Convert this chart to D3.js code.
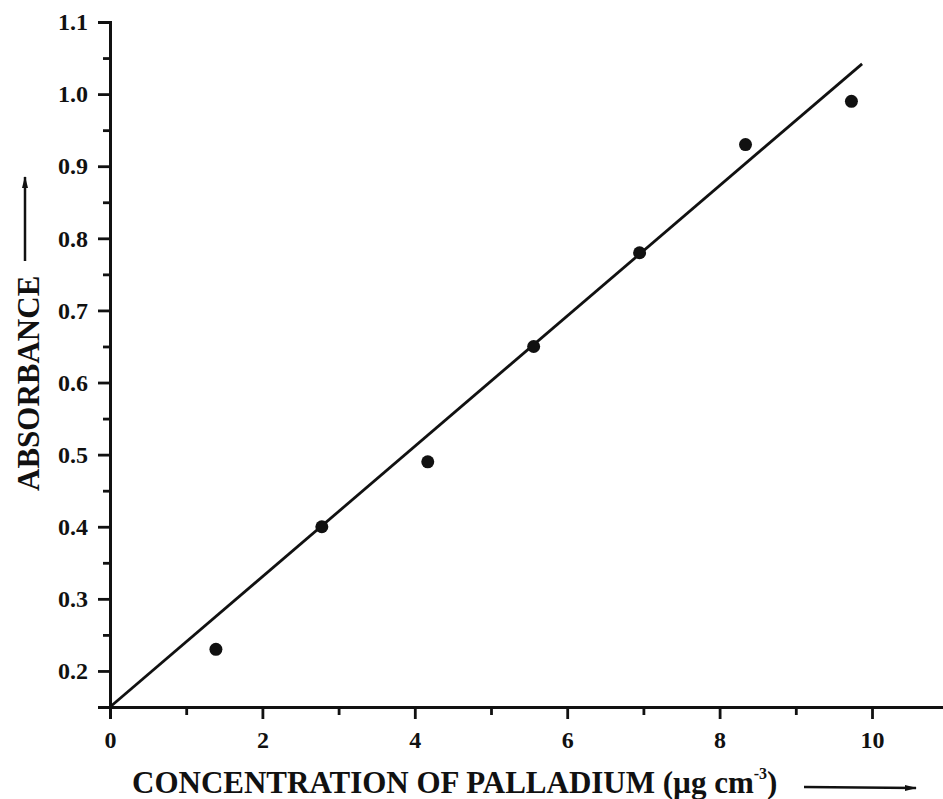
<!DOCTYPE html>
<html>
<head>
<meta charset="utf-8">
<script src="https://cdn.jsdelivr.net/npm/d3@7"></script>
<style>
  html, body { margin: 0; padding: 0; background: #fff; }
  svg { display: block; }
  text { font-family: "Liberation Serif", "Times New Roman", serif; font-weight: bold; fill: #111; }
</style>
</head>
<body>
<svg id="chart" width="943" height="799"></svg>
<script>
// Calibration data: palladium concentration (µg cm⁻³) vs absorbance
const concentration = [1.39, 2.78, 4.17, 5.56, 6.95, 8.34, 9.73];
const absorbance    = [0.23, 0.40, 0.49, 0.65, 0.78, 0.93, 0.99];

// Fitted calibration line, given by its two end points
const fitX = [0, 9.87];
const fitY = [0.15, 1.042];

const xTicks = [0, 2, 4, 6, 8, 10];
const xMinorTicks = [1, 3, 5, 7, 9];
const yTicks = [0.2, 0.3, 0.4, 0.5, 0.6, 0.7, 0.8, 0.9, 1.0, 1.1];
const yMinorTicks = [0.25, 0.35, 0.45, 0.55, 0.65, 0.75, 0.85, 0.95, 1.05];

const svg = d3.select("#chart");
const plotLeft = 110, plotBottom = 707, plotTop = 22;

const x = d3.scaleLinear().domain([0, 11]).range([plotLeft, plotLeft + 11 * 76.2]);
const y = d3.scaleLinear().domain([0.15, 1.1]).range([plotBottom, plotTop]);

// Axes
const xAxis = d3.axisBottom(x).tickValues(xTicks).tickFormat(d3.format("d")).tickSize(12).tickPadding(12);
const xMinor = d3.axisBottom(x).tickValues(xMinorTicks).tickFormat("").tickSize(8);
const yAxis = d3.axisLeft(y).tickValues(yTicks).tickFormat(d3.format(".1f")).tickSize(12).tickPadding(10);
const yMinor = d3.axisLeft(y).tickValues(yMinorTicks).tickFormat("").tickSize(7);

function styleAxis(g) {
  g.select(".domain").attr("stroke", "#111").attr("stroke-width", 3);
  g.selectAll(".tick line").attr("stroke", "#111").attr("stroke-width", 2.8);
  g.selectAll(".tick text").attr("font-size", 24).attr("font-family", "Liberation Serif, serif").attr("font-weight", "bold").attr("fill", "#111");
}

svg.append("g").attr("transform", `translate(0,${plotBottom})`).call(xMinor).call(styleAxis);
svg.append("g").attr("transform", `translate(0,${plotBottom})`).call(xAxis).call(styleAxis);
svg.append("g").attr("transform", `translate(${plotLeft},0)`).call(yMinor).call(styleAxis);
svg.append("g").attr("transform", `translate(${plotLeft},0)`).call(yAxis).call(styleAxis);

// Fit line
const line = d3.line().x(d => x(d[0])).y(d => y(d[1]));
svg.append("path")
  .datum(d3.zip(fitX, fitY))
  .attr("d", line)
  .attr("fill", "none")
  .attr("stroke", "#111")
  .attr("stroke-width", 2.8);

// Measured points
svg.append("g").selectAll("circle")
  .data(d3.zip(concentration, absorbance))
  .join("circle")
  .attr("cx", d => x(d[0]))
  .attr("cy", d => y(d[1]))
  .attr("r", 6.5)
  .attr("fill", "#111");

// Arrow marker
svg.append("defs").append("marker")
  .attr("id", "arrow")
  .attr("viewBox", "0 0 12 8")
  .attr("refX", 11).attr("refY", 4)
  .attr("markerWidth", 12).attr("markerHeight", 8)
  .attr("markerUnits", "userSpaceOnUse")
  .attr("orient", "auto")
  .append("path").attr("d", "M0,1 L12,4 L0,7 Z").attr("fill", "#111");

// X axis title
const xt = svg.append("text")
  .attr("x", 132).attr("y", 793)
  .attr("font-size", 31);
xt.append("tspan").text("CONCENTRATION OF PALLADIUM (µg cm");
xt.append("tspan").attr("font-size", 16).attr("dy", -14).text("-3");
xt.append("tspan").attr("dy", 14).text(")");

svg.append("line")
  .attr("x1", 804).attr("y1", 787).attr("x2", 916).attr("y2", 788)
  .attr("stroke", "#111").attr("stroke-width", 2.5)
  .attr("marker-end", "url(#arrow)");

// Y axis title
svg.append("text")
  .attr("transform", "translate(39,491) rotate(-90)")
  .attr("font-size", 31)
  .text("ABSORBANCE");

svg.append("line")
  .attr("x1", 25).attr("y1", 261).attr("x2", 25).attr("y2", 177)
  .attr("stroke", "#111").attr("stroke-width", 2.5)
  .attr("marker-end", "url(#arrow)");
</script>
</body>
</html>
